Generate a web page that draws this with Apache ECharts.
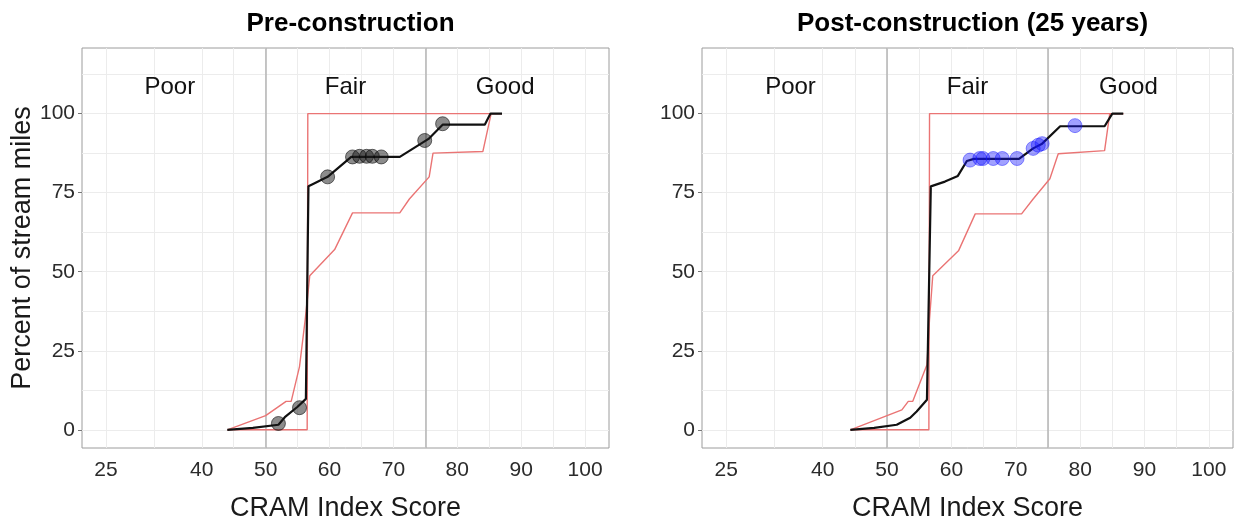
<!DOCTYPE html>
<html>
<head>
<meta charset="utf-8">
<script src="https://cdn.jsdelivr.net/npm/echarts@6/dist/echarts.min.js"></script>
<style>
  html, body { margin: 0; padding: 0; background: #fff; }
  #chart { width: 1241px; height: 525px; }
</style>
</head>
<body>
<div id="chart"></div>
<script>
// Panel titles
const panelTitles = ['Pre-construction', 'Post-construction (25 years)'];

// Axis tick labels
const xTicks = [25, 40, 50, 60, 70, 80, 90, 100];
const yTicks = [0, 25, 50, 75, 100];
const xGridLines = [25, 32.5, 40, 45, 50, 55, 60, 65, 70, 75, 80, 85, 90, 95, 100];
const yGridLines = [0, 12.5, 25, 37.5, 50, 62.5, 75, 87.5, 100, 112.5];

// Condition classes and their boundaries
const classNames = ['Poor', 'Fair', 'Good'];
const classLabelX = [35, 62.5, 87.5];
const classLabelY = 108.3;
const classBreaks = [50, 75];

// Pre-construction: cumulative estimate (black), confidence bounds (red), site scores (points)
const preEstimate = [
  [44, 0], [48, 0.6], [52, 1.6], [53, 4], [55, 7.3], [56.3, 9.8], [56.7, 77],
  [57.5, 77.8], [59.7, 80], [63.4, 86.3], [68, 86.3], [71, 86.3], [75.5, 92],
  [77.7, 96.5], [84.3, 96.5], [85.2, 100], [87, 100]
];
const preUpperBound = [[44, 0], [56.5, 0], [56.6, 100], [87, 100]];
const preLowerBound = [
  [44, 0], [50, 4.5], [53.2, 9], [54, 9], [55.3, 20], [56.2, 35], [56.9, 48.7],
  [60.8, 57], [63.6, 68.6], [71, 68.6], [72.5, 73], [75.6, 80], [76.2, 87.5],
  [84, 88], [85.3, 100], [87, 100]
];
const prePoints = [
  [52, 2], [55.3, 7], [59.7, 80], [63.6, 86.3], [64.7, 86.5], [65.8, 86.5],
  [66.7, 86.5], [68.1, 86.3], [74.9, 91.5], [77.7, 96.8]
];

// Post-construction (25 years)
const postEstimate = [
  [44.3, 0], [48, 0.6], [51.5, 1.6], [53.6, 3.8], [54.6, 5.8], [56.2, 9.5], [56.8, 77],
  [59, 78.5], [61, 80.3], [62.4, 85], [63.5, 85.7], [70.5, 85.7], [72.7, 89],
  [74.1, 90.5], [76.9, 96], [83.8, 96], [85, 100], [86.7, 100]
];
const postUpperBound = [[44.3, 0], [56.5, 0], [56.6, 100], [86.7, 100]];
const postLowerBound = [
  [44.3, 0], [52.3, 6.3], [53.3, 9], [54, 9], [56.2, 20.6], [56.6, 35], [57.1, 48.7],
  [61.1, 56.6], [63.7, 68.3], [70.9, 68.3], [72.7, 73], [75.3, 79.4], [76.6, 87.3],
  [83.8, 88.3], [84.6, 100], [86.7, 100]
];
const postPoints = [
  [62.9, 85.3], [64.4, 85.8], [64.9, 85.8], [66.5, 85.8], [67.9, 85.8], [70.2, 85.8],
  [72.7, 89], [73.5, 90], [74.1, 90.5], [79.2, 96.2]
];

const FONT = '"Liberation Sans", Arial, sans-serif';
const panels = [
  { left: 82, width: 527, est: preEstimate, up: preUpperBound, lo: preLowerBound,
    pts: prePoints, ptColor: 'rgba(25,25,25,0.5)', ptBorder: 'rgba(0,0,0,0.55)' },
  { left: 702, width: 531, est: postEstimate, up: postUpperBound, lo: postLowerBound,
    pts: postPoints, ptColor: 'rgba(20,20,255,0.4)', ptBorder: 'rgba(20,20,255,0.45)' }
];

const grids = [], xAxes = [], yAxes = [], titles = [], series = [];

panels.forEach((p, i) => {
  grids.push({ left: p.left, top: 48, width: p.width, height: 400, show: true,
    outerBoundsMode: 'none', containLabel: false,
    borderColor: '#9c9c9c', borderWidth: 1, backgroundColor: '#fff' });
  titles.push({ text: panelTitles[i], left: p.left + p.width / 2, top: 6, textAlign: 'center',
    textStyle: { fontFamily: FONT, fontWeight: 'bold', fontSize: 26, color: '#000' } });
  xAxes.push({
    type: 'value', gridIndex: i, min: 21.25, max: 103.75,
    name: 'CRAM Index Score', nameLocation: 'middle', nameGap: 47,
    nameTextStyle: { fontFamily: FONT, fontSize: 27, color: '#1a1a1a' },
    axisLine: { show: false },
    axisTick: { show: true, length: 4, lineStyle: { color: '#777' }, customValues: xTicks },
    axisLabel: { customValues: xTicks, fontFamily: FONT, fontSize: 21, color: '#2b2b2b', margin: 12 },
    splitLine: { show: false }
  });
  yAxes.push({
    type: 'value', gridIndex: i, min: -5.75, max: 120.75,
    name: i === 0 ? 'Percent of stream miles' : '', nameLocation: 'middle', nameGap: 42,
    nameTextStyle: { fontFamily: FONT, fontSize: 27, color: '#1a1a1a' },
    axisLine: { show: false },
    axisTick: { show: true, length: 4, lineStyle: { color: '#777' }, customValues: yTicks },
    axisLabel: { customValues: yTicks, fontFamily: FONT, fontSize: 21, color: '#2b2b2b', margin: 7 },
    splitLine: { show: false }
  });

  // background grid (kept beneath the data lines)
  series.push({
    type: 'line', xAxisIndex: i, yAxisIndex: i, data: [], silent: true, z: 1,
    markLine: {
      z: 1, silent: true, symbol: 'none', label: { show: false }, animation: false,
      lineStyle: { color: '#ececec', width: 1, type: 'solid' },
      data: xGridLines.map(v => ({ xAxis: v })).concat(yGridLines.map(v => ({ yAxis: v })))
    }
  });
  // condition class boundaries
  series.push({
    type: 'line', xAxisIndex: i, yAxisIndex: i, data: [], silent: true, z: 2,
    markLine: {
      z: 2, silent: true, symbol: 'none', label: { show: false }, animation: false,
      lineStyle: { color: '#b4b4b4', width: 1.5, type: 'solid' },
      data: classBreaks.map(v => ({ xAxis: v }))
    }
  });
  // class names
  series.push({
    type: 'scatter', xAxisIndex: i, yAxisIndex: i, symbolSize: 0, silent: true, z: 20,
    itemStyle: { opacity: 1 },
    data: classNames.map((n, k) => [classLabelX[k], classLabelY, n]),
    label: { show: true, position: 'inside', formatter: d => d.value[2],
      fontFamily: FONT, fontSize: 24, color: '#111' }
  });
  // confidence bounds
  [p.up, p.lo].forEach(b => series.push({
    type: 'line', xAxisIndex: i, yAxisIndex: i, data: b, symbol: 'none', z: 6,
    lineStyle: { color: '#ea7474', width: 1.4 }
  }));
  // estimate
  series.push({
    type: 'line', xAxisIndex: i, yAxisIndex: i, data: p.est, symbol: 'none', z: 7,
    lineStyle: { color: '#111', width: 2.2 }
  });
  // site scores
  series.push({
    type: 'scatter', xAxisIndex: i, yAxisIndex: i, data: p.pts, symbolSize: 14, z: 8,
    itemStyle: { color: p.ptColor, borderColor: p.ptBorder, borderWidth: 1, opacity: 1 }
  });
});

const chart = echarts.init(document.getElementById('chart'), null, { renderer: 'canvas' });
chart.setOption({
  animation: false,
  backgroundColor: '#fff',
  title: titles,
  grid: grids,
  xAxis: xAxes,
  yAxis: yAxes,
  series: series
});
</script>
</body>
</html>
